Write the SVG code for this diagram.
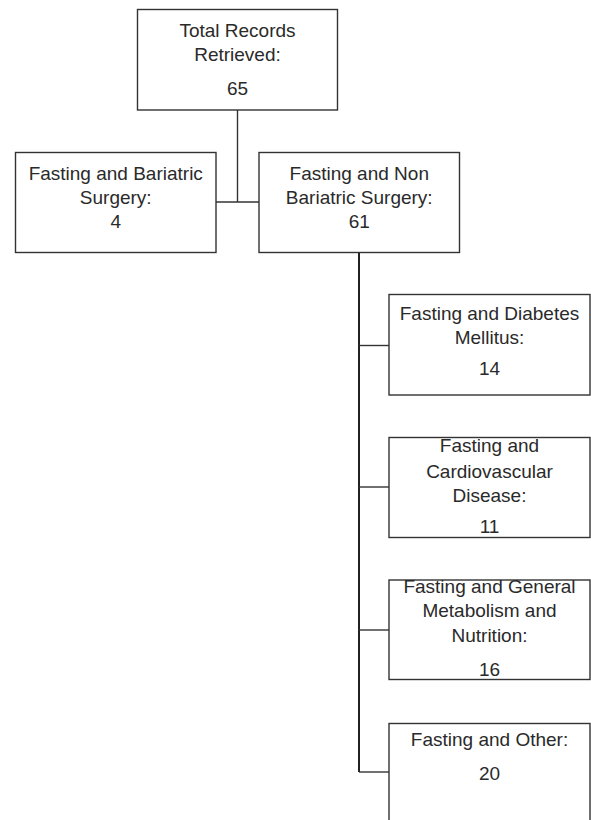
<svg xmlns="http://www.w3.org/2000/svg" width="591" height="820" viewBox="0 0 591 820">
<style>
.box{fill:#fff;stroke:#333;stroke-width:1.4}
.t{font-family:"Liberation Sans",Arial,sans-serif;font-size:19px;fill:#2a2a2a;text-anchor:middle}
.c{stroke:#333;stroke-width:1.4;fill:none}
.trunk{stroke:#222;stroke-width:2;fill:none}
</style>
<rect width="591" height="820" fill="#fff"/>
<g id="connectors">
<line class="c" x1="237.5" y1="110" x2="237.5" y2="202"/>
<line class="c" x1="216" y1="202" x2="259" y2="202"/>
<line class="trunk" x1="359" y1="252.5" x2="359" y2="772"/>
<line class="c" x1="359" y1="345.5" x2="389" y2="345.5"/>
<line class="c" x1="359" y1="487" x2="389" y2="487"/>
<line class="c" x1="359" y1="630" x2="389" y2="630"/>
<line class="c" x1="359" y1="772" x2="389" y2="772"/>
</g>
<g id="total">
<rect class="box" x="137.5" y="9.5" width="200" height="100.5"/>
<text class="t" x="237.5" y="37">Total Records</text>
<text class="t" x="237.5" y="61">Retrieved:</text>
<text class="t" x="237.5" y="95">65</text>
</g>
<g id="bariatric">
<rect class="box" x="15.5" y="152.5" width="200.5" height="100"/>
<text class="t" x="115.75" y="180">Fasting and Bariatric</text>
<text class="t" x="115.75" y="203.5">Surgery:</text>
<text class="t" x="115.75" y="228">4</text>
</g>
<g id="nonbariatric">
<rect class="box" x="259" y="152.5" width="200.5" height="100"/>
<text class="t" x="359.25" y="180">Fasting and Non</text>
<text class="t" x="359.25" y="203.5">Bariatric Surgery:</text>
<text class="t" x="359.25" y="228">61</text>
</g>
<g id="diabetes">
<rect class="box" x="389" y="294.5" width="201" height="100.5"/>
<text class="t" x="489.5" y="319.5">Fasting and Diabetes</text>
<text class="t" x="489.5" y="343.5">Mellitus:</text>
<text class="t" x="489.5" y="374.5">14</text>
</g>
<g id="cardio">
<rect class="box" x="389" y="437.5" width="201" height="100"/>
<text class="t" x="489.5" y="452">Fasting and</text>
<text class="t" x="489.5" y="478">Cardiovascular</text>
<text class="t" x="489.5" y="502">Disease:</text>
<text class="t" x="489.5" y="533">11</text>
</g>
<g id="general">
<rect class="box" x="389" y="580" width="201" height="99.5"/>
<text class="t" x="489.5" y="593">Fasting and General</text>
<text class="t" x="489.5" y="617">Metabolism and</text>
<text class="t" x="489.5" y="642">Nutrition:</text>
<text class="t" x="489.5" y="676">16</text>
</g>
<g id="other">
<rect class="box" x="389" y="723.5" width="201" height="110"/>
<text class="t" x="489.5" y="746">Fasting and Other:</text>
<text class="t" x="489.5" y="779.5">20</text>
</g>
</svg>
